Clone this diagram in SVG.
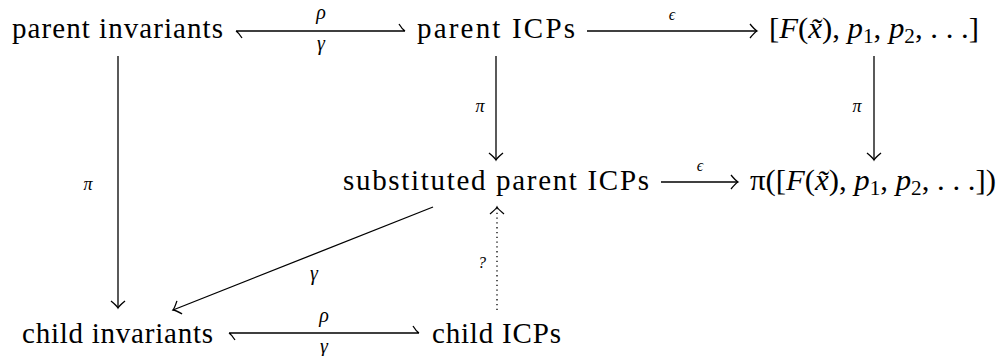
<svg xmlns="http://www.w3.org/2000/svg" width="999" height="356" viewBox="0 0 999 356">
<style>
.n{font-family:"Liberation Serif","Times New Roman",serif;font-size:29px;fill:#000}
.m{font-style:italic}
.s{font-size:20px}
.l{font-family:"Liberation Serif","Times New Roman",serif;font-style:italic;fill:#000;text-anchor:middle}
.c{stroke:#000;stroke-width:1.3;fill:none}
.d{stroke-dasharray:1.3 3.5}
</style>
<defs>
<marker id="ah" markerUnits="userSpaceOnUse" markerWidth="20" markerHeight="20" refX="0" refY="0" viewBox="-10 -10 20 20" orient="auto" overflow="visible">
<path d="M-7,-7 Q-2,-1 0,0 Q-2,1 -7,7" fill="none" stroke="#000" stroke-width="1.3"/>
</marker>
</defs>
<rect width="999" height="356" fill="#fff"/>
<g id="parent-invariants"><text class="n" x="12" y="38" textLength="211" lengthAdjust="spacing">parent invariants</text></g>
<g id="parent-icps"><text class="n" x="417" y="38" textLength="158" lengthAdjust="spacing">parent ICPs</text></g>
<g id="values"><text class="n" x="769" y="38" textLength="210" lengthAdjust="spacingAndGlyphs">[<tspan class="m">F</tspan>(<tspan class="m">x̃</tspan>), <tspan class="m">p</tspan><tspan class="s" dy="5">1</tspan><tspan dy="-5">, </tspan><tspan class="m">p</tspan><tspan class="s" dy="5">2</tspan><tspan dy="-5">, . . .]</tspan></text></g>
<g id="substituted-parent-icps"><text class="n" x="343" y="190" textLength="306" lengthAdjust="spacing">substituted parent ICPs</text></g>
<g id="projected-values"><text class="n" x="750" y="190" textLength="246" lengthAdjust="spacingAndGlyphs">π([<tspan class="m">F</tspan>(<tspan class="m">x̃</tspan>), <tspan class="m">p</tspan><tspan class="s" dy="5">1</tspan><tspan dy="-5">, </tspan><tspan class="m">p</tspan><tspan class="s" dy="5">2</tspan><tspan dy="-5">, . . .])</tspan></text></g>
<g id="child-invariants"><text class="n" x="22" y="343" textLength="191" lengthAdjust="spacing">child invariants</text></g>
<g id="child-icps"><text class="n" x="432" y="343" textLength="129" lengthAdjust="spacing">child ICPs</text></g>
<g id="connectors">
<path class="c" d="M236,31 H405 M236,31 Q239,33 242,38 M405,31 Q402,29 399,24"/>
<text class="l" x="321" y="19" font-size="20">ρ</text>
<text class="l" x="321" y="50" font-size="20">γ</text>
<path class="c" d="M587,31 H757" marker-end="url(#ah)"/>
<text class="l" x="672" y="20" font-size="16">ϵ</text>
<path class="c" d="M118,56 V308" marker-end="url(#ah)"/>
<text class="l" x="88" y="190" font-size="18">π</text>
<path class="c" d="M496,56 V160" marker-end="url(#ah)"/>
<text class="l" x="480" y="112" font-size="18">π</text>
<path class="c" d="M874,56 V160" marker-end="url(#ah)"/>
<text class="l" x="857" y="112" font-size="18">π</text>
<path class="c" d="M661,182 H738" marker-end="url(#ah)"/>
<text class="l" x="700" y="171" font-size="16">ϵ</text>
<path class="c" d="M433,207 L173,310" marker-end="url(#ah)"/>
<text class="l" x="314" y="280" font-size="20">γ</text>
<path class="c d" d="M497,310 V207" marker-end="url(#ah)"/>
<text class="l" x="482" y="268" font-size="16">?</text>
<path class="c" d="M229,333 H419 M229,333 Q232,335 235,340 M419,333 Q416,331 413,326"/>
<text class="l" x="324" y="322" font-size="20">ρ</text>
<text class="l" x="324" y="353" font-size="20">γ</text>
</g>
</svg>
